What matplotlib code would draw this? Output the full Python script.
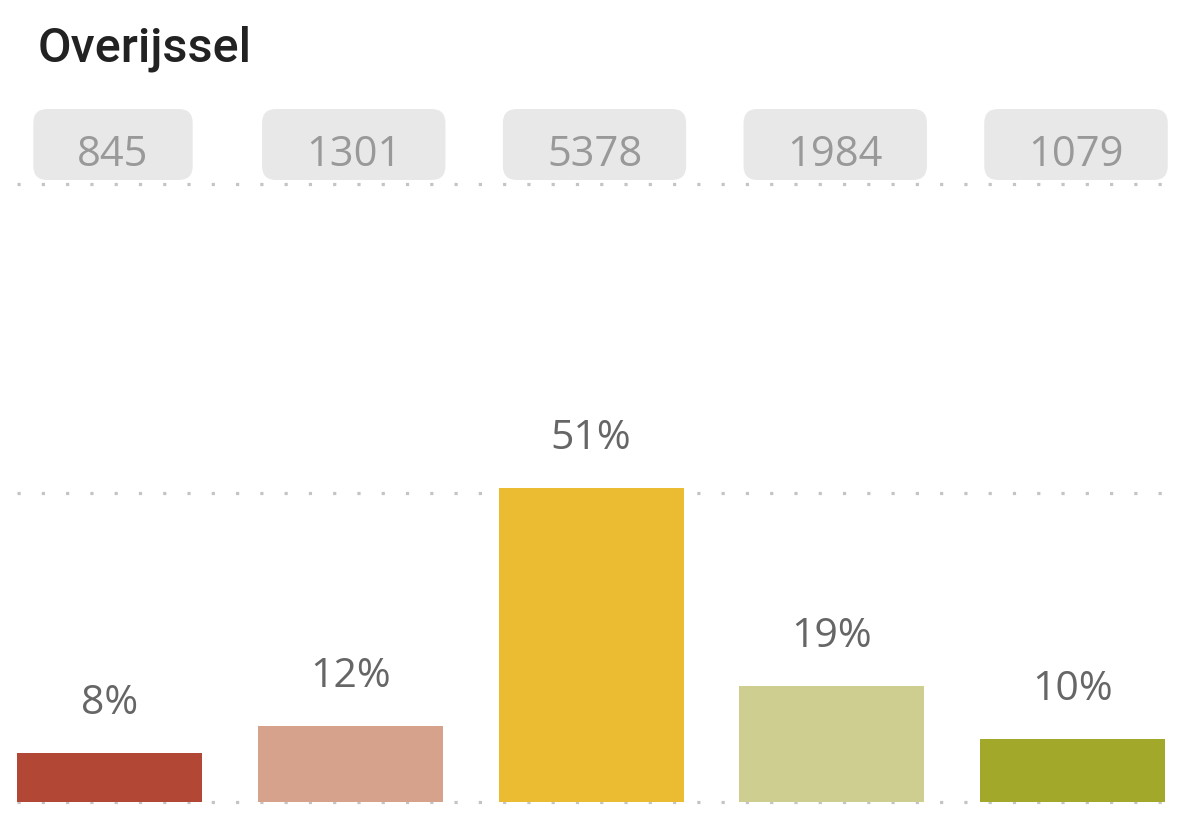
import matplotlib
matplotlib.use("Agg")
import matplotlib.pyplot as plt
from matplotlib.patches import FancyBboxPatch
from matplotlib.transforms import IdentityTransform, blended_transform_factory

# data
title = "Overijssel"
categories = ["c1", "c2", "c3", "c4", "c5"]
counts = [845, 1301, 5378, 1984, 1079]
colors = ["#B34735", "#D7A28C", "#EBBC31", "#CFCE91", "#A2A82A"]

total = sum(counts)
shares = [c / total * 100 for c in counts]

W, H = 1177, 819
fig = plt.figure(figsize=(W / 100, H / 100), dpi=100)
fig.patch.set_facecolor("white")

# axes placed in pixels
left, right, top, bottom = 17, 1170, 184, 802
ax = fig.add_axes([left / W, (H - bottom) / H, (right - left) / W, (bottom - top) / H])

pitch = 240.75
x = list(range(len(categories)))
ax.bar(x, shares, width=185 / pitch, color=colors, zorder=2)
ax.set_xlim(-(109.5 - left) / pitch, (right - 109.5) / pitch)
ax.set_ylim(0, 100)

# dotted gridlines at 0, 50, 100
ax.set_yticks([0, 50, 100])
ax.grid(axis="y", color="#C4C4C4", linewidth=2.3, linestyle=(0, (1, 6.6)))
ax.set_axisbelow(True)
for gl in ax.get_ygridlines():
    gl.set_clip_on(False)
    gl.set_dash_capstyle("butt")
ax.tick_params(left=False, bottom=False, labelleft=False, labelbottom=False)
for s in ax.spines.values():
    s.set_visible(False)

# percentage labels above bars
for xi, s in zip(x, shares):
    ax.annotate("%d%%" % round(s), (xi, s), xytext=(0, 28), textcoords="offset points",
                ha="center", va="baseline", fontsize=29.5, color="#666666",
                family="Open Sans")

# count labels in rounded grey boxes
tr = blended_transform_factory(ax.transData, fig.transFigure)
labels = []
for xi, c in zip(x, counts):
    t = fig.text(xi + 3.5 / pitch, (H - 166) / H, str(c), transform=tr,
                 ha="center", va="baseline", fontsize=30, color="#999999",
                 family="Open Sans", zorder=5)
    labels.append(t)

fig.canvas.draw()
r = fig.canvas.get_renderer()
for t in labels:
    bb = t.get_window_extent(r)
    box = FancyBboxPatch((bb.x0 - 44, H - 180), bb.width + 88, 71,
                         boxstyle="round,pad=0,rounding_size=14",
                         facecolor="#E8E8E8", edgecolor="none",
                         transform=IdentityTransform(), zorder=1)
    fig.add_artist(box)

fig.text(38 / W, (H - 62) / H, title, fontsize=35, fontweight="medium",
         family="Roboto", color="#222222", ha="left", va="baseline")

fig.savefig("out.png", dpi=100, facecolor="white")
